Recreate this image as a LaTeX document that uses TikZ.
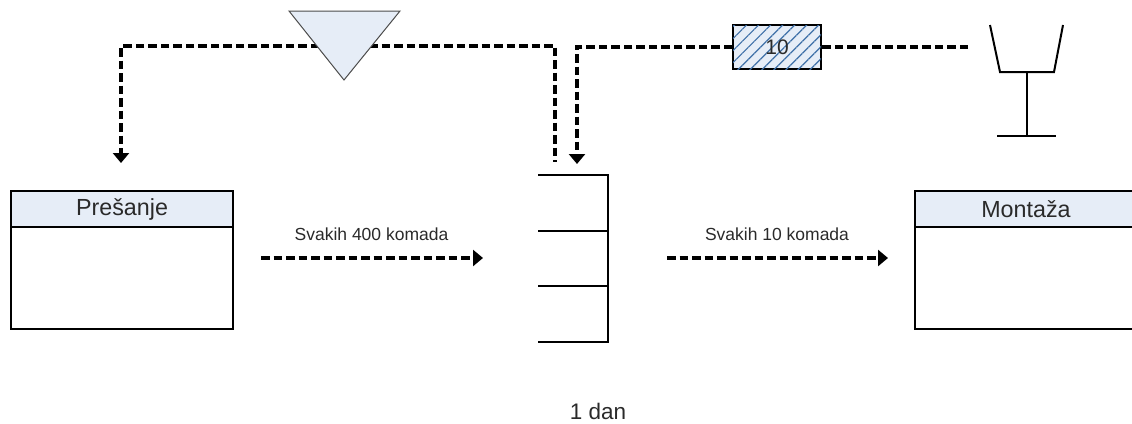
\documentclass[tikz,border=0pt]{standalone}
\usepackage{xcolor}
\usepackage{fontspec}
\usepackage{tikz}
\usetikzlibrary{arrows.meta,patterns.meta}
\setmainfont{Liberation Sans}
\definecolor{headblue}{HTML}{E6EDF7}
\definecolor{hatchblue}{HTML}{3F70A8}
\definecolor{textgray}{HTML}{2A2A2A}
\tikzset{head/.style={draw,fill=headblue,line width=1.3pt,minimum width=222pt,minimum height=36pt,inner sep=0pt,text=textgray,font=\fontsize{23.3}{25}\selectfont},
  body/.style={draw,line width=1.3pt,minimum width=222pt,minimum height=102pt,inner sep=0pt},
  info/.style={inner sep=0pt,text=textgray,font=\fontsize{17.5}{20}\selectfont},
  flow/.style={line width=4pt,dash pattern=on 8.5pt off 4pt},
  flowtip/.style={flow,-{Triangle[length=10pt,width=16pt]}},
  shape line/.style={line width=2pt,line join=miter}}

\begin{document}
\begin{tikzpicture}[x=1pt,y=-1pt]
\useasboundingbox (0,0) rectangle (1132,423);
\node[head] (pres) at (122,209) {Prešanje};
\node[body] (presbody) at (122,278) {};
\node[head] (mont) at (1026,209) {Montaža};
\node[body] (montbody) at (1026,278) {};
\node[info] (svak400) at (371.5,234) {Svakih 400 komada};
\node[info] (svak10) at (777,234) {Svakih 10 komada};
\node[inner sep=0pt,text=textgray,font=\fontsize{22.5}{24}\selectfont] (dan) at (598,411) {1 dan};
\coordinate (flow1a) at (261,258);
\coordinate (flow1b) at (483,258);
\coordinate (flow2a) at (667,258);
\coordinate (flow2b) at (888,258);
\coordinate (invl) at (344,46);
\coordinate (presin) at (121,163);
\coordinate (supout) at (555,162);
\coordinate (supin) at (577,164);
\coordinate (glassout) at (968,47);
\draw[flowtip] (flow1a) -- (flow1b);
\draw[flowtip] (flow2a) -- (flow2b);
\draw[flowtip] (invl) -| (presin);
\draw[flow] (invl) -| (supout);
\node[draw,line width=1.3pt,fill=headblue,postaction={pattern={Lines[angle=45,distance=8.5pt,line width=1.2pt]},pattern color=hatchblue},minimum width=88pt,minimum height=44pt,inner sep=0pt,text=textgray,font=\fontsize{21}{24}\selectfont] (kan) at (777,47) {10};
\draw[flow] (glassout) -- (kan);
\draw[flowtip] (kan) -| (supin);
\filldraw[draw=black!70,fill=headblue,line width=1pt] (289,11) -- (400,11) -- (344,80) -- cycle;
\draw[shape line] (538,175) -- (608,175) -- (608,342) -- (538,342);
\draw[shape line] (538,231) -- (608,231);
\draw[shape line] (538,286) -- (608,286);
\draw[shape line] (990,25) -- (1000,72) -- (1054,72) -- (1063,25);
\draw[shape line] (1027,72) -- (1027,136);
\draw[shape line] (997,136) -- (1056,136);
\end{tikzpicture}
\end{document}
